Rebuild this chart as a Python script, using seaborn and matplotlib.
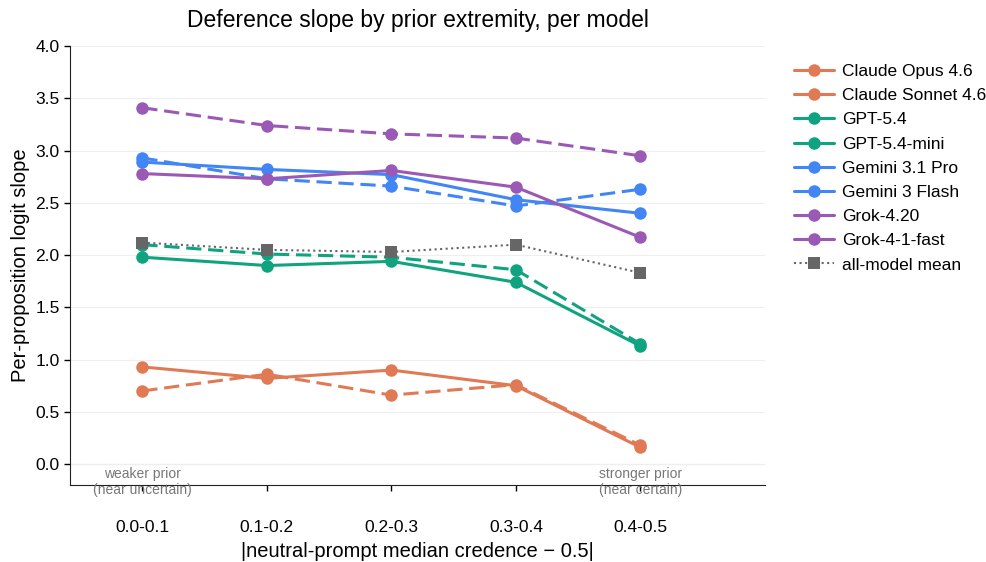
import numpy as np
import pandas as pd
import matplotlib
matplotlib.use('Agg')
import matplotlib.pyplot as plt
from matplotlib.lines import Line2D
import seaborn as sns

# Data
bins = ['0.0-0.1', '0.1-0.2', '0.2-0.3', '0.3-0.4', '0.4-0.5']
models = ['Claude Opus 4.6', 'Claude Sonnet 4.6', 'GPT-5.4', 'GPT-5.4-mini',
          'Gemini 3.1 Pro', 'Gemini 3 Flash', 'Grok-4.20', 'Grok-4-1-fast']
opus = [0.93, 0.82, 0.90, 0.75, 0.16]
sonnet = [0.70, 0.86, 0.66, 0.76, 0.18]
gpt54 = [1.98, 1.90, 1.94, 1.74, 1.13]
gpt54_mini = [2.10, 2.01, 1.98, 1.86, 1.15]
gemini_pro = [2.89, 2.82, 2.77, 2.53, 2.40]
gemini_flash = [2.93, 2.73, 2.66, 2.47, 2.63]
grok420 = [2.78, 2.73, 2.81, 2.65, 2.17]
grok_fast = [3.41, 3.24, 3.16, 3.12, 2.95]
mean_all = [2.12, 2.05, 2.03, 2.10, 1.83]

series = [opus, sonnet, gpt54, gpt54_mini, gemini_pro, gemini_flash, grok420, grok_fast]
colors = ['#E07A55', '#E07A55', '#10A37F', '#10A37F',
          '#4285F4', '#4285F4', '#9B59B6', '#9B59B6']
dashed = [False, True, False, True, False, True, False, True]

rows = []
for m, vals in zip(models, series):
    for i, v in enumerate(vals):
        rows.append({'model': m, 'x': i, 'slope': v})
df = pd.DataFrame(rows)
mean_df = pd.DataFrame({'x': range(len(bins)), 'slope': mean_all})

sns.set_style('white', {'text.color': 'black', 'axes.labelcolor': 'black',
                        'xtick.color': 'black', 'ytick.color': 'black'})
plt.rcParams['font.family'] = ['Liberation Sans', 'DejaVu Sans']

fig, ax = plt.subplots(figsize=(9.87, 5.62), dpi=100)

palette = dict(zip(models, colors))
dash_map = {m: ((5, 2.2) if d else '') for m, d in zip(models, dashed)}
sns.lineplot(data=df, x='x', y='slope', hue='model', style='model',
             palette=palette, dashes=dash_map, markers={m: 'o' for m in models},
             markersize=9, markeredgewidth=0, linewidth=2.2, ax=ax, legend=False)
sns.lineplot(data=mean_df, x='x', y='slope', color='#666666', linestyle=':',
             marker='s', markersize=8, markeredgewidth=0, linewidth=1.5, ax=ax)

ax.axhline(0, color='#aaaaaa', linestyle=':', linewidth=0.8, zorder=0)
ax.yaxis.grid(True, color='#eeeeee', linewidth=0.8)
ax.set_axisbelow(True)

ax.set_xlim(-0.58, 5.0)
ax.set_ylim(-0.2, 4.0)
ax.set_yticks(np.arange(0, 4.01, 0.5))
ax.set_xticks(range(len(bins)))
ax.set_xticklabels(bins, fontsize=12.5)
ax.tick_params(axis='x', pad=21, length=4, width=1, direction='out', bottom=True)
ax.tick_params(axis='y', labelsize=12.5, length=4, width=1, left=True)
sns.despine(ax=ax)
for s in ['left', 'bottom']:
    ax.spines[s].set_color('#222222')

ax.set_xlabel('|neutral-prompt median credence \u2212 0.5|', fontsize=14.5, labelpad=5)
ax.set_ylabel('Per-proposition logit slope', fontsize=14.5)
ax.set_title('Deference slope by prior extremity, per model', fontsize=16.5, pad=13.5)

ax.text(0, -0.17, 'weaker prior\n(near uncertain)', ha='center', va='center',
        fontsize=10, color='#777777', clip_on=False, linespacing=1.15)
ax.text(len(bins) - 1, -0.17, 'stronger prior\n(near certain)', ha='center', va='center',
        fontsize=10, color='#777777', clip_on=False, linespacing=1.15)

handles = [Line2D([0], [0], color=c, marker='o', markersize=9, markeredgewidth=0, linewidth=2.2)
           for c in colors]
handles.append(Line2D([0], [0], color='#666666', linestyle=':', marker='s', markersize=8,
                      markeredgewidth=0, linewidth=1.5))
labels = models + ['all-model mean']
ax.legend(handles, labels, loc='upper left', bbox_to_anchor=(1.019, 0.995), frameon=False,
          fontsize=12.5, handlelength=2.3, handletextpad=0.5, labelspacing=0.52)

fig.subplots_adjust(left=0.071, right=0.775, top=0.918, bottom=0.137)
fig.savefig('out.png', dpi=100)
